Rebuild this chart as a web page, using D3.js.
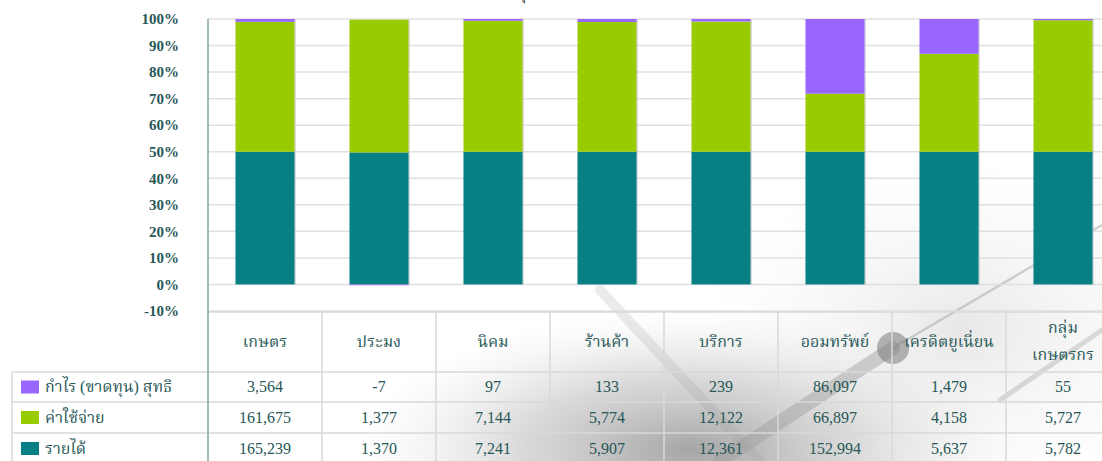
<!DOCTYPE html>
<html><head><meta charset="utf-8">
<script src="https://cdn.jsdelivr.net/npm/d3@7"></script>
<style>
html,body{margin:0;padding:0;background:#fff;overflow:hidden}
svg{display:block}
</style></head>
<body>
<svg id="c" width="1102" height="461"></svg>
<script>
const categories = ["เกษตร","ประมง","นิคม","ร้านค้า","บริการ","ออมทรัพย์","เครดิตยูเนี่ยน","กลุ่ม|เกษตรกร"];
const seriesNames = ["กำไร (ขาดทุน) สุทธิ","ค่าใช้จ่าย","รายได้"];
const profit  = [3564, -7, 97, 133, 239, 86097, 1479, 55];
const expense = [161675, 1377, 7144, 5774, 12122, 66897, 4158, 5727];
const revenue = [165239, 1370, 7241, 5907, 12361, 152994, 5637, 5782];
const yTicks = [-0.1,0,0.1,0.2,0.3,0.4,0.5,0.6,0.7,0.8,0.9,1.0];
const colors = {profit:"#9966ff", expense:"#99cc00", revenue:"#067f85"};

const svg = d3.select("#c");
const W = 1102, H = 461;
const serif = "'Liberation Serif','Noto Serif Thai','DejaVu Serif',serif";
const txtColor = "#275757";
const loc = d3.formatLocale({decimal:".", thousands:",", grouping:[3], currency:["",""], minus:"-", percent:"%"});

// background photo-like shading (decorative)
const defs = svg.append("defs");
const rg = defs.append("radialGradient").attr("id","bg").attr("cx","0.5").attr("cy","0.5").attr("r","0.5");
rg.append("stop").attr("offset","0").attr("stop-color","#7f7f7f").attr("stop-opacity",0.7);
rg.append("stop").attr("offset","0.5").attr("stop-color","#a9a9a9").attr("stop-opacity",0.45);
rg.append("stop").attr("offset","1").attr("stop-color","#d8d8d8").attr("stop-opacity",0);
svg.append("ellipse").attr("cx",690).attr("cy",450).attr("rx",330).attr("ry",140).attr("fill","url(#bg)");
const rg2 = defs.append("radialGradient").attr("id","bg2").attr("cx","0.5").attr("cy","0.5").attr("r","0.5");
rg2.append("stop").attr("offset","0").attr("stop-color","#d4d4d4").attr("stop-opacity",0.55);
rg2.append("stop").attr("offset","1").attr("stop-color","#eeeeee").attr("stop-opacity",0);
svg.append("ellipse").attr("cx",960).attr("cy",330).attr("rx",260).attr("ry",170).attr("fill","url(#bg2)");
const deco = svg.append("g").attr("stroke","#9d9d9d").attr("stroke-opacity",0.45).attr("fill","none").attr("stroke-linecap","round");
deco.append("line").attr("x1",893).attr("y1",348).attr("x2",1102).attr("y2",225).attr("stroke-width",2.5);
deco.append("line").attr("x1",893).attr("y1",348).attr("x2",720).attr("y2",461).attr("stroke-width",14);
deco.append("line").attr("x1",600).attr("y1",290).attr("x2",760).attr("y2",461).attr("stroke-width",10).attr("stroke-opacity",0.2);
deco.append("line").attr("x1",1000).attr("y1",400).attr("x2",1102).attr("y2",330).attr("stroke-width",5).attr("stroke-opacity",0.35);
svg.append("circle").attr("cx",893).attr("cy",348).attr("r",16).attr("fill","#7a7a7a").attr("fill-opacity",0.55);

// title (only its lowest mark is inside the frame)
svg.append("text").attr("x",520).attr("y",-1).attr("text-anchor","middle")
  .attr("font-family","'Noto Sans','DejaVu Sans',sans-serif").attr("font-size",16).attr("fill","#222")
  .text("ทุ");

const x = d3.scaleBand().domain(categories).range([208, 208 + 114*8]).paddingInner(0.482).paddingOuter(0.241);
const y = d3.scaleLinear().domain([-0.1, 1]).range([311, 19]);
const pad = (x.step() - x.bandwidth())/2;

// gridlines
svg.append("g").selectAll("line").data(yTicks).join("line")
  .attr("x1",208).attr("x2",W).attr("y1",d=>y(d)).attr("y2",d=>y(d))
  .attr("stroke","#e0e0e0").attr("stroke-width",1.5);

// y axis
const yAxis = d3.axisLeft(y).tickValues(yTicks).tickFormat(loc.format(".0%")).tickSize(0).tickPadding(29);
const ga = svg.append("g").attr("transform","translate(208,0)").call(yAxis);
ga.select(".domain").remove();
ga.selectAll("text").attr("font-family",serif).attr("font-size",15).attr("fill",txtColor).attr("font-weight","bold");

// bars
const rows = categories.map((c,i)=>{
  const tot = Math.abs(profit[i]) + Math.abs(expense[i]) + Math.abs(revenue[i]);
  return {c, r: revenue[i]/tot, e: expense[i]/tot, p: profit[i]/tot};
});
const segs = [];
rows.forEach(d=>{
  let pos = 0, neg = 0;
  [["r",colors.revenue],["e",colors.expense],["p",colors.profit]].forEach(([k,col])=>{
    const v = d[k];
    if (v >= 0) { segs.push({c:d.c, y0:pos, y1:pos+v, col}); pos += v; }
    else { segs.push({c:d.c, y0:neg+v, y1:neg, col}); neg += v; }
  });
});
svg.append("g").selectAll("line").data(rows).join("line")
  .attr("x1",d=>x(d.c)+x.bandwidth()+0.5).attr("x2",d=>x(d.c)+x.bandwidth()+0.5)
  .attr("y1",d=>y(Math.max(0,d.r)+Math.max(0,d.e)+Math.max(0,d.p))).attr("y2",y(0))
  .attr("stroke","#bcbcbc").attr("stroke-width",1);
svg.append("g").selectAll("rect").data(segs).join("rect")
  .attr("x",d=>x(d.c)).attr("width",x.bandwidth())
  .attr("y",d=>y(d.y1)).attr("height",d=>Math.max(0.8, y(d.y0)-y(d.y1)))
  .attr("fill",d=>d.col);

// table
const tbl = svg.append("g");
const lineCol = "#d9d9d9";
const rowY = [312, 372, 402, 433, 464];
const right = 208 + x.step()*8;
tbl.append("line").attr("x1",208).attr("x2",right).attr("y1",rowY[0]).attr("y2",rowY[0]).attr("stroke",lineCol).attr("stroke-width",1.5);
[1,2,3].forEach(k=>tbl.append("line").attr("x1",12).attr("x2",right).attr("y1",rowY[k]).attr("y2",rowY[k]).attr("stroke",lineCol).attr("stroke-width",1.5));
tbl.append("line").attr("x1",12).attr("x2",12).attr("y1",rowY[1]).attr("y2",H).attr("stroke",lineCol).attr("stroke-width",1.5);
tbl.selectAll("line.v").data(categories.slice(1)).join("line").attr("class","v")
  .attr("x1",d=>x(d)-pad).attr("x2",d=>x(d)-pad).attr("y1",rowY[0]).attr("y2",H)
  .attr("stroke",lineCol).attr("stroke-width",1.5);
svg.append("line").attr("x1",208).attr("x2",208).attr("y1",19).attr("y2",H).attr("stroke","#86a3a8").attr("stroke-width",1.5);

// header labels
const hdr = tbl.append("g").selectAll("text").data(categories).join("text")
  .attr("x",d=>x(d)+x.bandwidth()/2).attr("text-anchor","middle")
  .attr("font-family",serif).attr("font-size",16).attr("fill",txtColor);
hdr.each(function(d){
  const parts = d.split("|");
  const t = d3.select(this);
  if (parts.length === 1) t.attr("y",347).text(d);
  else parts.forEach((p,j)=>t.append("tspan").attr("x",+t.attr("x")).attr("y",333+j*27).text(p));
});

// legend + values
const seriesVals = [profit, expense, revenue];
const seriesCols = [colors.profit, colors.expense, colors.revenue];
const fmt = loc.format(",");
seriesNames.forEach((nm,k)=>{
  const cy = (rowY[k+1]+rowY[k+2])/2;
  tbl.append("rect").attr("x",21).attr("y",cy-6.5).attr("width",18).attr("height",13).attr("fill",seriesCols[k]);
  tbl.append("text").attr("x",45).attr("y",cy+5).attr("font-family",serif).attr("font-size",16).attr("fill",txtColor).text(nm);
  tbl.append("g").selectAll("text").data(seriesVals[k]).join("text")
    .attr("x",(d,i)=>x(categories[i])+x.bandwidth()/2).attr("y",cy+5).attr("text-anchor","middle")
    .attr("font-family",serif).attr("font-size",16).attr("fill",txtColor).text(d=>fmt(d));
});
</script>
</body></html>
